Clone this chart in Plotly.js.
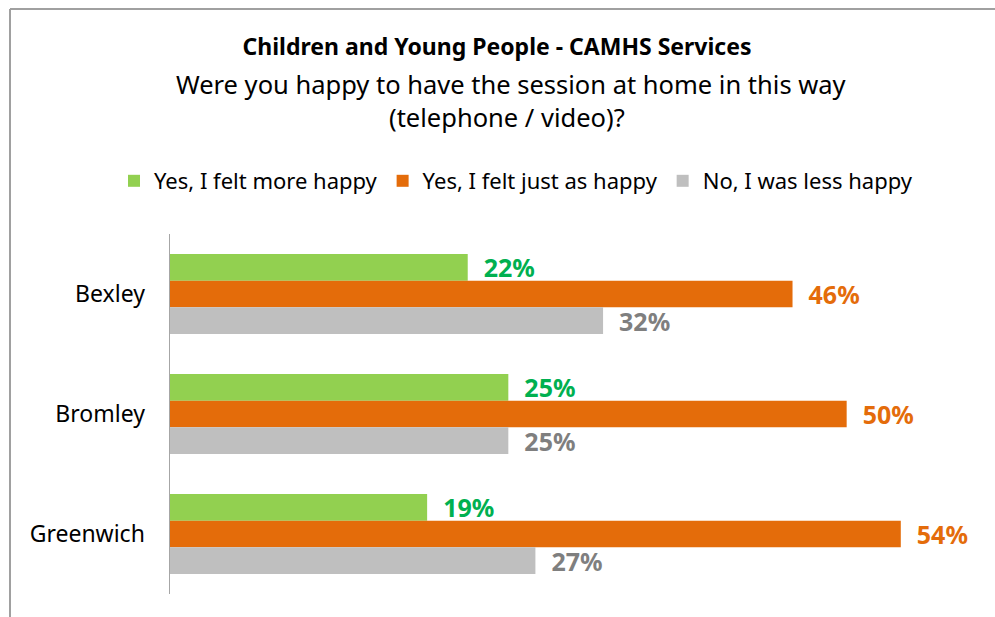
<!DOCTYPE html>
<html>
<head>
<meta charset="utf-8">
<script src="https://cdn.plot.ly/plotly-3.0.1.min.js"></script>
<style>
html,body{margin:0;padding:0;background:#fff;}
#chart{width:995px;height:617px;}
</style>
</head>
<body>
<div id="chart"></div>
<script>
// Data
const categories = ["Bexley", "Bromley", "Greenwich"];
const seriesNames = ["Yes, I felt more happy", "Yes, I felt just as happy", "No, I was less happy"];
const moreHappy = [22, 25, 19];
const justAsHappy = [46, 50, 54];
const lessHappy = [32, 25, 27];
const titleText = "Children and Young People - CAMHS Services";
const subtitleLines = ["Were you happy to have the session at home in this way", "(telephone / video)?"];

const barColors = ["#92D050", "#E46C0A", "#BFBFBF"];
const labelColors = ["#00B050", "#E46C0A", "#7F7F7F"];
const values = [moreHappy, justAsHappy, lessHappy];

const FONT = "Noto Sans, Open Sans, sans-serif";

const traces = values.map((v, i) => ({
  type: "bar",
  orientation: "h",
  name: seriesNames[i],
  y: categories,
  x: v,
  marker: {color: barColors[i]},
  text: v.map(d => "\u00a0\u00a0" + d + "%"),
  textposition: "outside",
  constraintext: "none",
  cliponaxis: false,
  textfont: {family: FONT, size: 25, color: labelColors[i], weight: "bold"},
  hoverinfo: "skip"
}));

const W = 995, H = 617;
const M = {l: 170, r: 13, t: 234, b: 23};
const pw = W - M.l - M.r, ph = H - M.t - M.b;
const px = x => (x - M.l) / pw;
const py = y => 1 - (y - M.t) / ph;

const layout = {
  width: W, height: H,
  margin: M,
  paper_bgcolor: "#fff",
  plot_bgcolor: "#fff",
  font: {family: FONT, color: "#000"},
  barmode: "group",
  bargap: 1/3,
  bargroupgap: 0,
  title: {
    text: "<b>" + titleText + "</b>",
    font: {family: FONT, size: 23, color: "#000"},
    x: 497 / W, xanchor: "center",
    y: 1 - 47 / H, yanchor: "middle",
    xref: "container", yref: "container"
  },
  xaxis: {range: [0, 60], visible: false, showgrid: false, zeroline: false, fixedrange: true},
  yaxis: {
    autorange: "reversed",
    showline: true, linecolor: "#A6A6A6", linewidth: 1.5,
    ticks: "", showgrid: false, zeroline: false,
    tickfont: {family: FONT, size: 23, color: "#000"},
    ticklabelstandoff: 19
  },
  showlegend: true,
  legend: {
    orientation: "h",
    xref: "container", yref: "container",
    x: 516 / W, xanchor: "center",
    y: 1 - 181 / H, yanchor: "middle",
    font: {family: FONT, size: 22, color: "#000"},
    traceorder: "normal"
  },
  annotations: subtitleLines.map((t, i) => ({
    text: t, showarrow: false,
    xref: "paper", yref: "paper",
    x: px(i === 0 ? 511 : 507), y: py(i === 0 ? 84 : 117),
    xanchor: "center", yanchor: "middle",
    font: {family: FONT, size: 25.5, color: "#000"}
  })),
  shapes: [
    {type: "line", xref: "paper", yref: "paper", x0: px(10), x1: px(10), y0: py(9), y1: py(640), line: {color: "#A0A0A0", width: 2}},
    {type: "line", xref: "paper", yref: "paper", x0: px(10), x1: px(1010), y0: py(9), y1: py(9), line: {color: "#A0A0A0", width: 2}}
  ]
};

Plotly.newPlot("chart", traces, layout, {displayModeBar: false, staticPlot: true});
</script>
</body>
</html>
